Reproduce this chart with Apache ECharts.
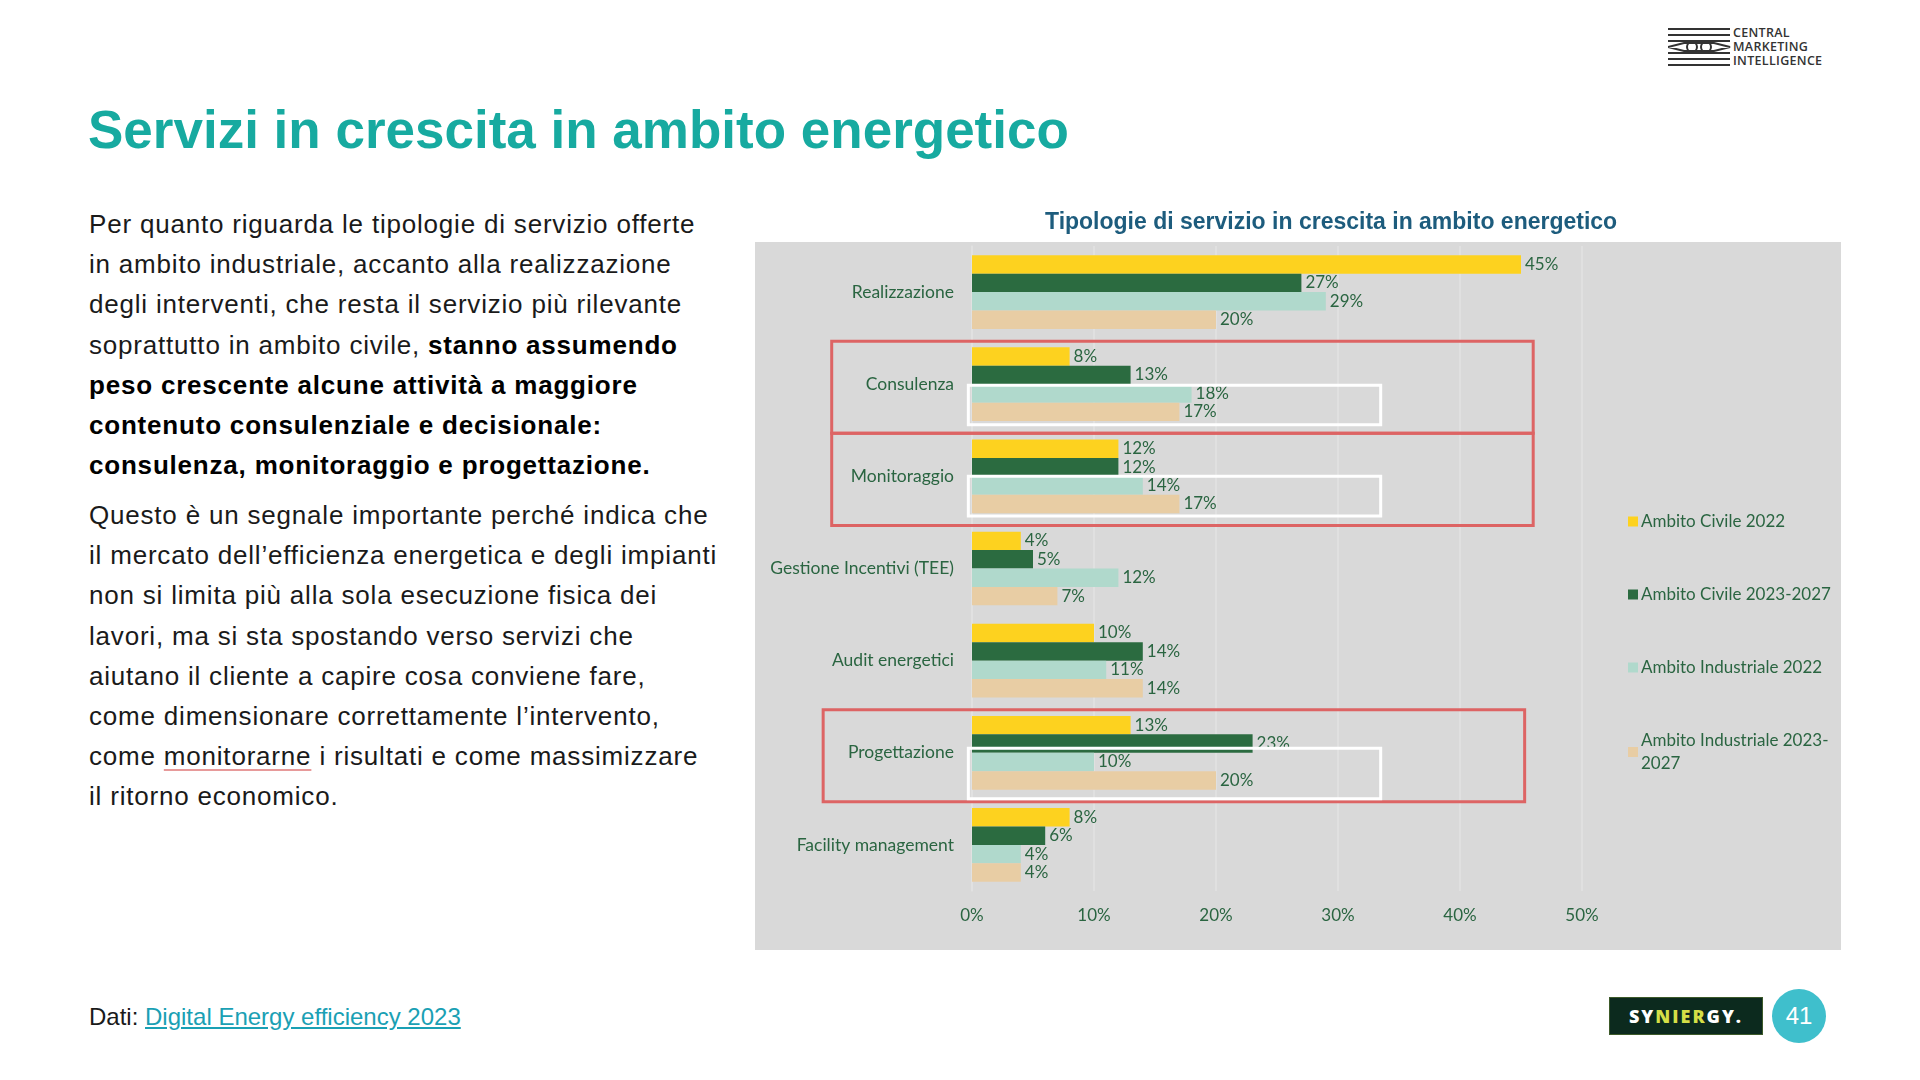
<!DOCTYPE html>
<html lang="it">
<head>
<meta charset="UTF-8">
<title>Servizi in crescita in ambito energetico</title>
<style>
    html, body { margin: 0; padding: 0; background: #fff; }
    body { width: 1920px; height: 1080px; position: relative; overflow: hidden; font-family: "Liberation Sans", Arial, sans-serif; }
    .title { position: absolute; left: 88px; top: 103px; font-size: 53px; line-height: 1; font-weight: bold; color: #17aaa0; white-space: nowrap; }
    .txt { position: absolute; left: 89px; font-size: 26px; letter-spacing: 0.8px; line-height: 40.2px; color: #1a1a1a; white-space: nowrap; }
    .txt b { color: #000; }
    .spell { text-decoration: underline; text-decoration-color: #e79a9a; text-underline-offset: 4px; }
    .src { font-size: 24px; letter-spacing: 0; }
    .src a { color: #1aa0b4; text-decoration: underline; }
    #chart { position: absolute; left: 755px; top: 195px; width: 1086px; height: 755px;
        background: linear-gradient(to bottom, #fff 0, #fff 47px, #d9d9d9 47px); }
    .cmi { position: absolute; left: 1668px; top: 27px; }
    .cmi-txt { position: absolute; left: 1733px; top: 26px; font-family: "Open Sans", sans-serif; font-weight: 600; font-size: 12.5px; line-height: 14px; color: #333; letter-spacing: 0.3px; }
    .syn { position: absolute; left: 1609px; top: 997px; width: 154px; height: 38px; background: #0c2a1e; border: 1px solid #3d5a2a; box-sizing: border-box;
        font-family: "Open Sans", sans-serif; font-weight: 800; font-size: 18px; letter-spacing: 2px; color: #fff; text-align: center; line-height: 36px; }
    .syn span { color: #d5df47; }
    .page { position: absolute; left: 1772px; top: 989px; width: 54px; height: 54px; border-radius: 50%; background: #3fbfcc; color: #fff;
        font-family: "Liberation Sans", Arial, sans-serif; font-size: 24px; line-height: 54px; text-align: center; }
</style>
</head>
<body>
<div class="title">Servizi in crescita in ambito energetico</div>

<div class="txt" style="top:204px;">
    Per quanto riguarda le tipologie di servizio offerte<br>
    in ambito industriale, accanto alla realizzazione<br>
    degli interventi, che resta il servizio più rilevante<br>
    soprattutto in ambito civile, <b>stanno assumendo</b><br>
    <b>peso crescente alcune attività a maggiore</b><br>
    <b>contenuto consulenziale e decisionale:</b><br>
    <b>consulenza, monitoraggio e progettazione.</b>
</div>
<div class="txt" style="top:495px;">
    Questo è un segnale importante perché indica che<br>
    il mercato dell’efficienza energetica e degli impianti<br>
    non si limita più alla sola esecuzione fisica dei<br>
    lavori, ma si sta spostando verso servizi che<br>
    aiutano il cliente a capire cosa conviene fare,<br>
    come dimensionare correttamente l’intervento,<br>
    come <span class="spell">monitorarne</span> i risultati e come massimizzare<br>
    il ritorno economico.
</div>
<div class="txt src" style="top:997px;">Dati: <a>Digital Energy efficiency 2023</a></div>

<svg class="cmi" width="64" height="40" viewBox="0 0 64 40">
    <g stroke="#333" stroke-width="2.2">
        <line x1="0" y1="2" x2="62" y2="2"/>
        <line x1="0" y1="8" x2="62" y2="8"/>
        <line x1="0" y1="14" x2="62" y2="14"/>
        <line x1="0" y1="26" x2="62" y2="26"/>
        <line x1="0" y1="32" x2="62" y2="32"/>
        <line x1="0" y1="38" x2="62" y2="38"/>
    </g>
    <g stroke="#333" stroke-width="2" fill="none">
        <path d="M0 20 L16 16 L46 16 L62 20 L46 24 L16 24 Z"/>
        <circle cx="24" cy="20" r="5"/>
        <circle cx="38" cy="20" r="5"/>
    </g>
</svg>
<div class="cmi-txt">CENTRAL<br>MARKETING<br>INTELLIGENCE</div>

<div id="chart"></div>

<div class="syn">SY<span>NIER</span>GY.</div>
<div class="page">41</div>

<script src="https://cdn.jsdelivr.net/npm/echarts@6/dist/echarts.min.js"></script>
<script>
    // dati
    const categories = ['Realizzazione', 'Consulenza', 'Monitoraggio', 'Gestione Incentivi (TEE)', 'Audit energetici', 'Progettazione', 'Facility management'];
    const seriesNames = ['Ambito Civile 2022', 'Ambito Civile 2023-2027', 'Ambito Industriale 2022', 'Ambito Industriale 2023-2027'];
    const civile2022 = [45, 8, 12, 4, 10, 13, 8];
    const civile2327 = [27, 13, 12, 5, 14, 23, 6];
    const industriale2022 = [29, 18, 14, 12, 11, 10, 4];
    const industriale2327 = [20, 17, 17, 7, 14, 20, 4];
    const xMin = 0, xMax = 50, xStep = 10;

    const colors = ['#fdd21f', '#2b6b40', '#b0d9cc', '#e8cda4'];
    const green = '#2a6541';
    const font = 'Lato, "Open Sans", sans-serif';

    let chart = echarts.init(document.getElementById('chart'));

    let values = [civile2022, civile2327, industriale2022, industriale2327];

    let option = {
        animation: false,
        title: {
            text: 'Tipologie di servizio in crescita in ambito energetico',
            left: 285,
            top: 11,
            textStyle: { color: '#1d5c7d', fontSize: 23, fontWeight: 'bold', fontFamily: '"Liberation Sans", Arial, sans-serif' }
        },
        color: colors,
        legend: {
            orient: 'vertical',
            left: 868,
            top: 310,
            itemGap: 50,
            itemWidth: 10,
            itemHeight: 10,
            icon: 'rect',
            data: seriesNames,
            formatter: name => name === 'Ambito Industriale 2023-2027' ? 'Ambito Industriale 2023-\n2027' : name,
            textStyle: { color: green, fontSize: 17, lineHeight: 23, fontFamily: font, padding: [0, 0, 0, -2] }
        },
        grid: { left: 217, top: 51, width: 610, height: 645 },
        xAxis: {
            type: 'value',
            min: xMin,
            max: xMax,
            interval: xStep,
            axisLine: { show: false },
            axisTick: { show: false },
            axisLabel: { formatter: '{value}%', color: green, fontSize: 17, fontFamily: font, margin: 16 },
            splitLine: { lineStyle: { color: '#e2e2e2', width: 1.5 } }
        },
        yAxis: {
            type: 'category',
            inverse: true,
            data: categories,
            axisLine: { lineStyle: { color: '#e2e2e2', width: 1.5 } },
            axisTick: { show: false },
            axisLabel: { color: green, fontSize: 17.5, fontFamily: font, margin: 18 }
        },
        series: seriesNames.map((name, i) => ({
            name: name,
            type: 'bar',
            data: values[i],
            barGap: '0%',
            barCategoryGap: '20%',
            label: {
                show: true,
                position: 'right',
                distance: 4,
                formatter: '{c}%',
                color: green,
                fontSize: 17,
                fontFamily: font
            }
        }))
    };
    chart.setOption(option);

    // riquadri di evidenziazione (rosso = categoria, bianco = ambito industriale)
    const redBoxes = [
        { cat: 'Consulenza', x0: -11.5, x1: 46, dy: 3 },
        { cat: 'Monitoraggio', x0: -11.5, x1: 46, dy: 3 },
        { cat: 'Progettazione', x0: -12.2, x1: 45.3, dy: 3 }
    ];
    const whiteBoxes = [
        { cat: 'Consulenza', x0: -0.3, x1: 33.5, f0: 0.01, f1: 0.44 },
        { cat: 'Monitoraggio', x0: -0.3, x1: 33.5, f0: 0.0, f1: 0.43 },
        { cat: 'Progettazione', x0: -0.3, x1: 33.5, f0: -0.05, f1: 0.5 }
    ];

    let band = chart.convertToPixel({ yAxisIndex: 0 }, categories[1]) - chart.convertToPixel({ yAxisIndex: 0 }, categories[0]);
    let graphics = [];
    redBoxes.forEach(b => {
        let cy = chart.convertToPixel({ yAxisIndex: 0 }, b.cat);
        let xa = chart.convertToPixel({ xAxisIndex: 0 }, b.x0);
        let xb = chart.convertToPixel({ xAxisIndex: 0 }, b.x1);
        graphics.push({
            type: 'rect', z: 100,
            shape: { x: xa, y: cy - band / 2 + b.dy, width: xb - xa, height: band },
            style: { fill: 'none', stroke: '#dd6464', lineWidth: 3 }
        });
    });
    whiteBoxes.forEach(b => {
        let cy = chart.convertToPixel({ yAxisIndex: 0 }, b.cat);
        let xa = chart.convertToPixel({ xAxisIndex: 0 }, b.x0);
        let xb = chart.convertToPixel({ xAxisIndex: 0 }, b.x1);
        graphics.push({
            type: 'rect', z: 101,
            shape: { x: xa, y: cy + b.f0 * band, width: xb - xa, height: (b.f1 - b.f0) * band },
            style: { fill: 'none', stroke: '#ffffff', lineWidth: 3 }
        });
    });
    chart.setOption({ graphic: graphics });
</script>
</body>
</html>
